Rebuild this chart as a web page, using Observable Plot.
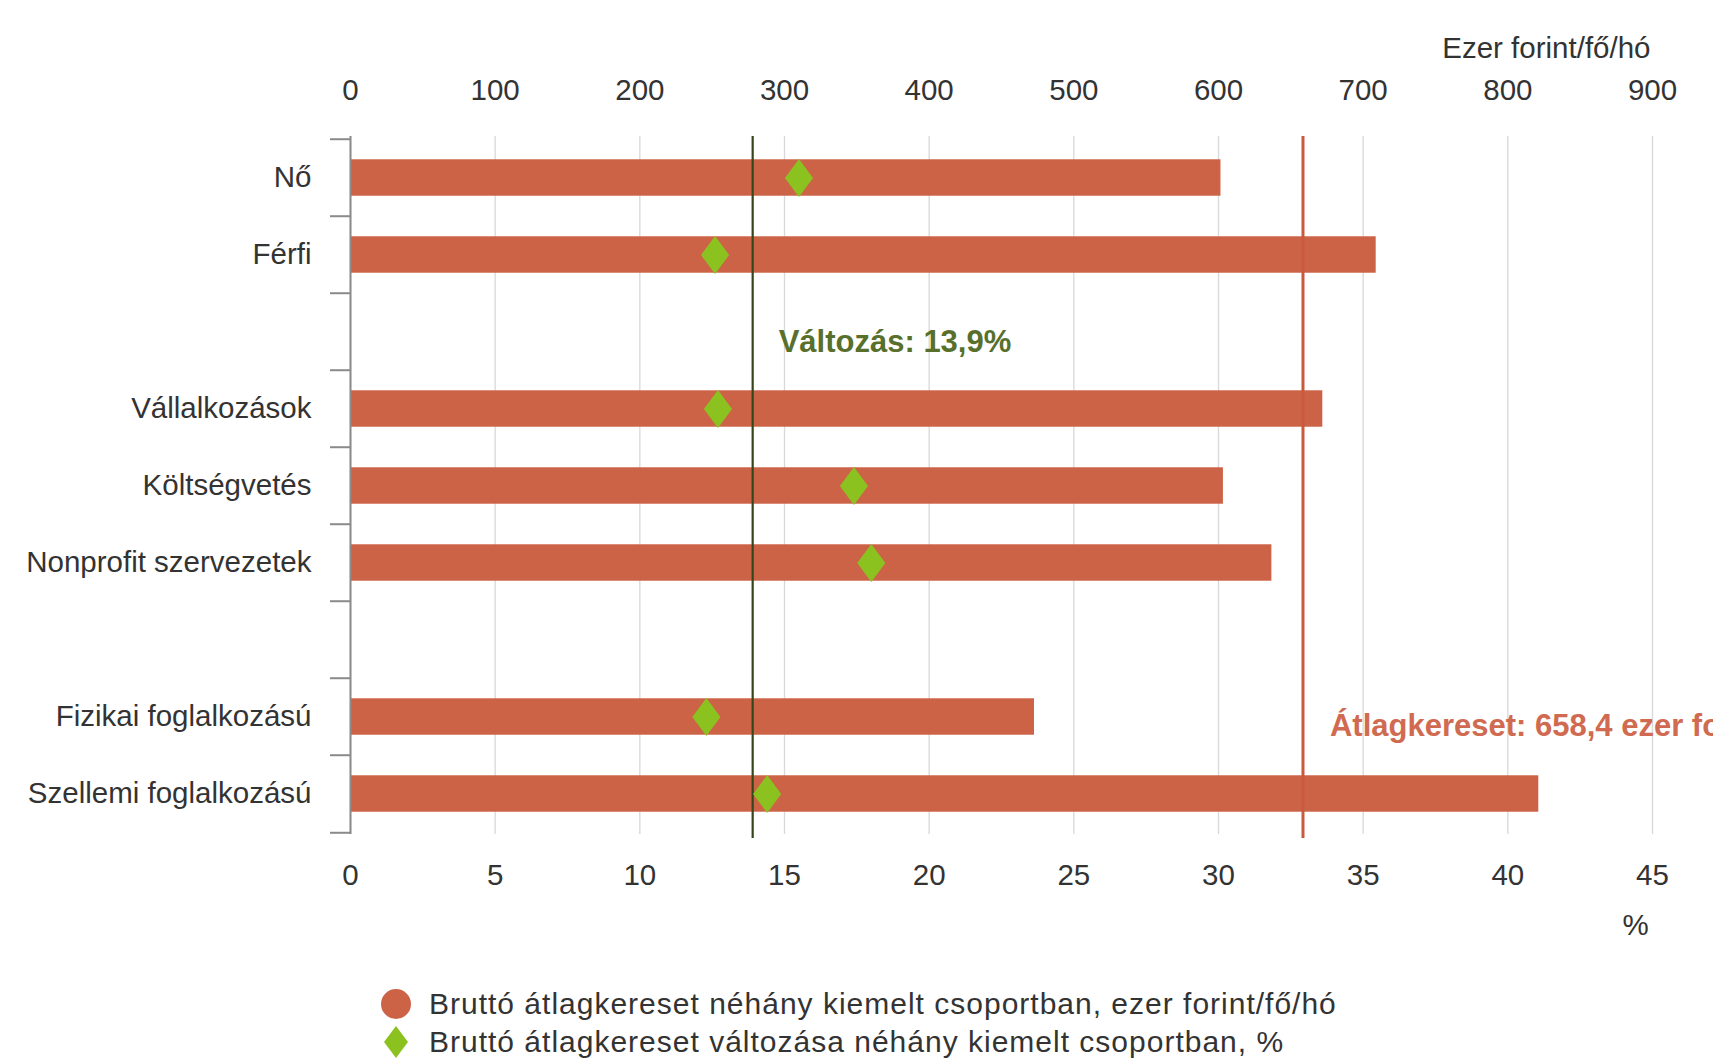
<!DOCTYPE html>
<html>
<head>
<meta charset="utf-8">
<script src="https://cdn.jsdelivr.net/npm/d3@7"></script>
<script src="https://cdn.jsdelivr.net/npm/@observablehq/plot@0.6"></script>
<style>
  html, body { margin: 0; padding: 0; background: #fff; overflow: hidden; }
  #chart { width: 1713px; }
  .legend { font-family: "Liberation Sans", Arial, sans-serif; font-size: 30px; letter-spacing: 1px; color: #333; padding-top: 35px; padding-left: 378px; }
  .legend .row { display: flex; align-items: center; height: 38px; line-height: 38px; white-space: nowrap; }
  .legend svg { width: 36px; height: 38px; margin-right: 15px; flex: none; }
</style>
</head>
<body>
<div id="chart"></div>
<script>
// ---- data ----
const categories = ["Nő", "Férfi", "Vállalkozások", "Költségvetés", "Nonprofit szervezetek", "Fizikai foglalkozású", "Szellemi foglalkozású"];
// band slots, including two empty separator rows
const slots = ["Nő", "Férfi", " ", "Vállalkozások", "Költségvetés", "Nonprofit szervezetek", "  ", "Fizikai foglalkozású", "Szellemi foglalkozású"];
const wages = [601.7, 709.0, 672.1, 603.4, 636.9, 472.8, 821.4];      // ezer forint/fő/hó
const changes = [15.5, 12.6, 12.7, 17.4, 18.0, 12.3, 14.4];          // %
const averageWage = 658.4;
const averageChange = 13.9;
const forintTicks = [0, 100, 200, 300, 400, 500, 600, 700, 800, 900];
const percentTicks = [0, 5, 10, 15, 20, 25, 30, 35, 40, 45];
const seriesNames = [
  "Bruttó átlagkereset néhány kiemelt csoportban, ezer forint/fő/hó",
  "Bruttó átlagkereset változása néhány kiemelt csoportban, %"
];
const unitTop = "Ezer forint/fő/hó";
const unitBottom = "%";
const avgLabel = "Átlagkereset: 658,4 ezer forint";
const changeLabel = "Változás: 13,9%";

// percent axis shares the pixel range: 45 % <-> 900 ezer Ft
const pctToForint = 900 / 45;

const rows = categories.map((c, i) => ({category: c, wage: wages[i], change: changes[i]}));

const W = 1713, H = 950;
const mTop = 136, mBottom = 116, mLeft = 350, mRight = 61;
const step = (H - mTop - mBottom) / slots.length;
const barH = 37;

const barColor = "#cc6347";
const diamondColor = "#8bc220";
const greenLine = "#34461a";
const greenText = "#58702b";
const redLine = "#c95a3d";
const redText = "#d06a50";

const diamond = {
  draw(context, size) {
    const r = Math.sqrt(size / Math.PI);
    const w = r * 0.74;
    context.moveTo(0, -r);
    context.lineTo(w, 0);
    context.lineTo(0, r);
    context.lineTo(-w, 0);
    context.closePath();
  }
};

const plot = Plot.plot({
  width: W,
  height: H,
  marginTop: mTop,
  marginBottom: mBottom,
  marginLeft: mLeft,
  marginRight: mRight,
  style: {fontFamily: "'Liberation Sans', Arial, sans-serif", fontSize: "29.5px", color: "#333", background: "#fff"},
  x: {domain: [0, 900]},
  y: {domain: slots, padding: 0},
  marks: [
    Plot.gridX(forintTicks, {stroke: "#d8d8d8", strokeOpacity: 1, strokeWidth: 1.3}),
    Plot.axisX(forintTicks, {anchor: "top", tickSize: 0, tickPadding: 37, label: null, tickFormat: d => String(d)}),
    Plot.axisX(percentTicks.map(p => p * pctToForint), {anchor: "bottom", tickSize: 0, tickPadding: 30, label: null, tickFormat: d => String(d / pctToForint)}),
    Plot.text([unitTop], {frameAnchor: "top-right", textAnchor: "end", lineAnchor: "middle", dy: -88, dx: -2, fill: "#333"}),
    Plot.text([unitBottom], {frameAnchor: "bottom-right", textAnchor: "middle", lineAnchor: "middle", dy: 91, dx: -17, fill: "#333"}),
    Plot.barX(rows, {x: "wage", y: "category", fill: barColor, insetTop: (step - barH) / 2, insetBottom: (step - barH) / 2}),
    Plot.ruleX([averageChange], {x: d => d * pctToForint, stroke: greenLine, strokeWidth: 2.2, insetBottom: -4}),
    Plot.ruleX([averageWage], {stroke: redLine, strokeWidth: 3, insetBottom: -4}),
    Plot.dot(rows, {x: d => d.change * pctToForint, y: "category", symbol: diamond, r: 19, fill: diamondColor, stroke: "none"}),
    Plot.text([averageChange], {x: d => d * pctToForint, y: () => slots[2], text: () => changeLabel, dx: 26, dy: 10, textAnchor: "start", fill: greenText, fontWeight: "bold", fontSize: 31}),
    Plot.text([averageWage], {x: d => d, y: () => slots[7], text: () => avgLabel, dx: 27, dy: 9, textAnchor: "start", fill: redText, fontWeight: "bold", fontSize: 31}),
    Plot.ruleX([0], {stroke: "#8a8a8a", strokeWidth: 2}),
    Plot.axisY({tickSize: 0, tickPadding: 39, label: null, tickFormat: d => d.trim()}),
    Plot.axisY(slots, {tickSize: 20, tickPadding: 0, label: null, tickFormat: () => "", dy: -step / 2, stroke: "#8a8a8a", strokeWidth: 2}),
    Plot.axisY([slots[slots.length - 1]], {tickSize: 20, tickPadding: 0, label: null, tickFormat: () => "", dy: step / 2, stroke: "#8a8a8a", strokeWidth: 2})
  ]
});
document.getElementById("chart").appendChild(plot);

// legend below the SVG
const legend = document.createElement("div");
legend.className = "legend";
legend.innerHTML =
  `<div class="row"><svg viewBox="-18 -19 36 38"><circle r="15" fill="${barColor}"/></svg><span>${seriesNames[0]}</span></div>` +
  `<div class="row"><svg viewBox="-18 -19 36 38"><path d="M0,-16L12,0L0,16L-12,0Z" fill="${diamondColor}"/></svg><span>${seriesNames[1]}</span></div>`;
document.body.appendChild(legend);
</script>
</body>
</html>
